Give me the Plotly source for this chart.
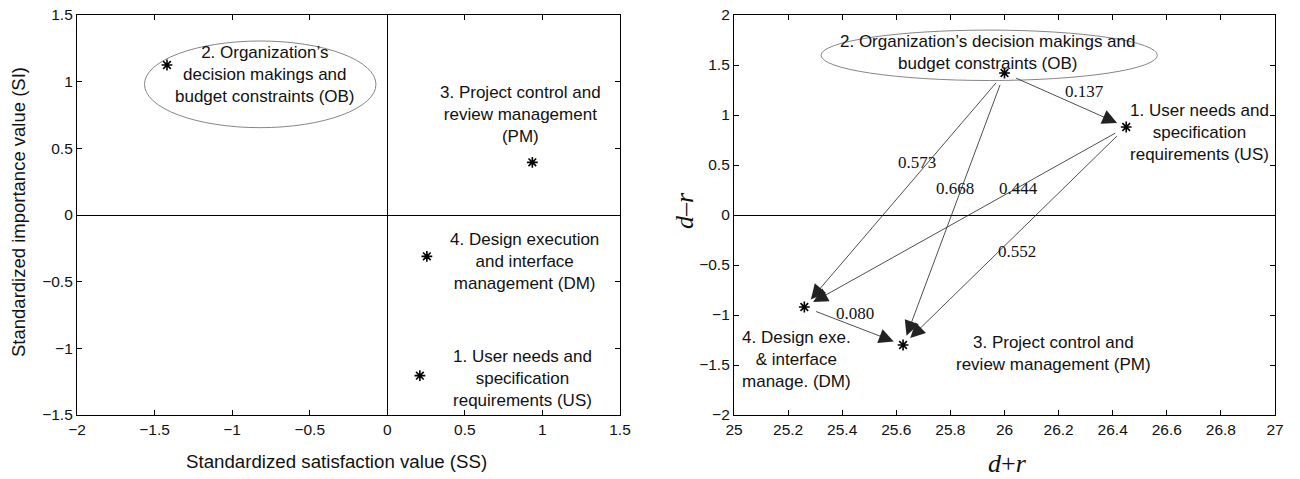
import plotly.graph_objects as go

# ---------------- data ----------------
factors = ["US", "OB", "PM", "DM"]

# left panel: standardized satisfaction (SS) vs standardized importance (SI)
ss_values = [0.21, -1.42, 0.935, 0.255]
si_values = [-1.205, 1.125, 0.395, -0.31]
left_labels = [
    "1. User needs and<br>specification<br>requirements (US)",
    "2. Organization’s<br>decision makings and<br>budget constraints (OB)",
    "3. Project control and<br>review management<br>(PM)",
    "4. Design execution<br>and interface<br>management (DM)",
]

# right panel: DEMATEL prominence (d+r) vs relation (d-r)
d_plus_r = [26.45, 26.0, 25.625, 25.26]
d_minus_r = [0.88, 1.42, -1.30, -0.92]
right_labels = [
    "1. User needs and<br>specification<br>requirements (US)",
    "2. Organization’s decision makings and<br>budget constraints (OB)",
    "3. Project control and<br>review management (PM)",
    "4. Design exe.<br>&amp; interface<br>manage. (DM)",
]

# influence relations (from -> to, weight)
rel_from = ["OB", "OB", "OB", "US", "US", "DM"]
rel_to = ["US", "DM", "PM", "DM", "PM", "PM"]
rel_values = ["0.137", "0.573", "0.668", "0.444", "0.552", "0.080"]

left_x_ticks = [-2, -1.5, -1, -0.5, 0, 0.5, 1, 1.5]
left_y_ticks = [-1.5, -1, -0.5, 0, 0.5, 1, 1.5]
right_x_ticks = [25, 25.2, 25.4, 25.6, 25.8, 26, 26.2, 26.4, 26.6, 26.8, 27]
right_y_ticks = [-2, -1.5, -1, -0.5, 0, 0.5, 1, 1.5, 2]

# ---------------- layout helpers (positions, not data) ----------------
left_label_pos = {"US": (0.872, -1.225), "OB": (-0.79, 1.05), "PM": (0.856, 0.752), "DM": (0.882, -0.348)}
right_label_pos = {"US": (26.72, 0.83), "OB": (25.936, 1.627), "PM": (26.18, -1.385), "DM": (25.23, -1.445)}
rel_label_pos = [(26.294, 1.234), (25.675, 0.521), (25.818, 0.262), (26.05, 0.262), (26.045, -0.36), (25.448, -0.985)]
left_ellipse = dict(x0=-1.565, x1=-0.073, y0=0.655, y1=1.305)
right_ellipse = dict(x0=25.322, x1=26.565, y0=1.345, y1=1.849)

W, H = 1300, 479
SANS = "Liberation Sans, Arial, sans-serif"
SERIF = "Liberation Serif, Times New Roman, serif"
TICK_FONT = dict(family=SANS, size=15.5, color="#111")
LABEL_FONT = dict(family=SANS, size=17, color="#111")
NUM_FONT = dict(family=SERIF, size=17, color="#111")

fig = go.Figure()

marker = dict(symbol="asterisk-open", size=9, color="black", line=dict(width=1.6, color="black"))
fig.add_trace(go.Scatter(x=ss_values, y=si_values, mode="markers", marker=marker,
                         xaxis="x", yaxis="y", showlegend=False, hoverinfo="skip"))
fig.add_trace(go.Scatter(x=d_plus_r, y=d_minus_r, mode="markers", marker=marker,
                         xaxis="x2", yaxis="y2", showlegend=False, hoverinfo="skip"))

ydom = [1 - 415 / H, 1 - 15 / H]
axis_common = dict(showline=True, linecolor="black", linewidth=1.2, mirror="ticks",
                   ticks="inside", ticklen=5, tickwidth=1, tickcolor="black",
                   showgrid=False, tickfont=TICK_FONT, fixedrange=True, automargin=False)

fig.update_layout(
    width=W, height=H,
    margin=dict(l=0, r=0, t=0, b=0, autoexpand=False),
    paper_bgcolor="white", plot_bgcolor="white",
    xaxis=dict(domain=[77 / W, 620 / W], range=[-2, 1.5], tickvals=left_x_ticks,
               zeroline=True, zerolinecolor="black", zerolinewidth=1.3, anchor="y", **axis_common),
    yaxis=dict(domain=ydom, range=[-1.5, 1.5], tickvals=left_y_ticks,
               zeroline=True, zerolinecolor="black", zerolinewidth=1.3, anchor="x", **axis_common),
    xaxis2=dict(domain=[734 / W, 1275 / W], range=[25, 27], tickvals=right_x_ticks,
                zeroline=False, anchor="y2", **axis_common),
    yaxis2=dict(domain=ydom, range=[-2, 2], tickvals=right_y_ticks,
                zeroline=True, zerolinecolor="black", zerolinewidth=1.3, anchor="x2", **axis_common),
)

# ellipses
fig.add_shape(type="circle", xref="x", yref="y", line=dict(color="#777", width=0.9), **left_ellipse)
fig.add_shape(type="circle", xref="x2", yref="y2", line=dict(color="#777", width=0.9), **right_ellipse)

# factor labels
for k, f in enumerate(factors):
    lx, ly = left_label_pos[f]
    fig.add_annotation(x=lx, y=ly, xref="x", yref="y", text=left_labels[k], showarrow=False,
                       font=LABEL_FONT, align="center", xanchor="center", yanchor="middle")
    rx, ry = right_label_pos[f]
    fig.add_annotation(x=rx, y=ry, xref="x2", yref="y2", text=right_labels[k], showarrow=False,
                       font=LABEL_FONT, align="center", xanchor="center", yanchor="middle")

# influence arrows
for (f, t, v), (px, py) in zip(zip(rel_from, rel_to, rel_values), rel_label_pos):
    i, j = factors.index(f), factors.index(t)
    fig.add_annotation(x=d_plus_r[j], y=d_minus_r[j], ax=d_plus_r[i], ay=d_minus_r[i],
                       xref="x2", yref="y2", axref="x2", ayref="y2", text="",
                       showarrow=True, arrowhead=2, arrowsize=3.7, arrowwidth=0.8,
                       arrowcolor="#222", standoff=10, startstandoff=11)
    fig.add_annotation(x=px, y=py, xref="x2", yref="y2", text=v, showarrow=False, font=NUM_FONT,
                       xanchor="center", yanchor="middle")

# axis titles
fig.add_annotation(x=336 / W, y=1 - 461 / H, xref="paper", yref="paper",
                   xanchor="center", yanchor="middle",
                   text="Standardized satisfaction value (SS)", showarrow=False,
                   font=dict(family=SANS, size=18.7, color="#111"))
fig.add_annotation(x=18 / W, y=1 - 212 / H, xref="paper", yref="paper", textangle=-90,
                   xanchor="center", yanchor="middle",
                   text="Standardized importance value (SI)", showarrow=False,
                   font=dict(family=SANS, size=18.5, color="#111"))
fig.add_annotation(x=1007 / W, y=1 - 463 / H, xref="paper", yref="paper",
                   xanchor="center", yanchor="middle",
                   text="<i>d</i>+<i>r</i>", showarrow=False,
                   font=dict(family=SERIF, size=26, color="#111"))
fig.add_annotation(x=684 / W, y=1 - 211 / H, xref="paper", yref="paper", textangle=-90,
                   xanchor="center", yanchor="middle",
                   text="<i>d–r</i>", showarrow=False,
                   font=dict(family=SERIF, size=26, color="#111"))

fig.write_html("out.html", config={"displayModeBar": False},
               post_script="document.body.style.margin='0px';")
